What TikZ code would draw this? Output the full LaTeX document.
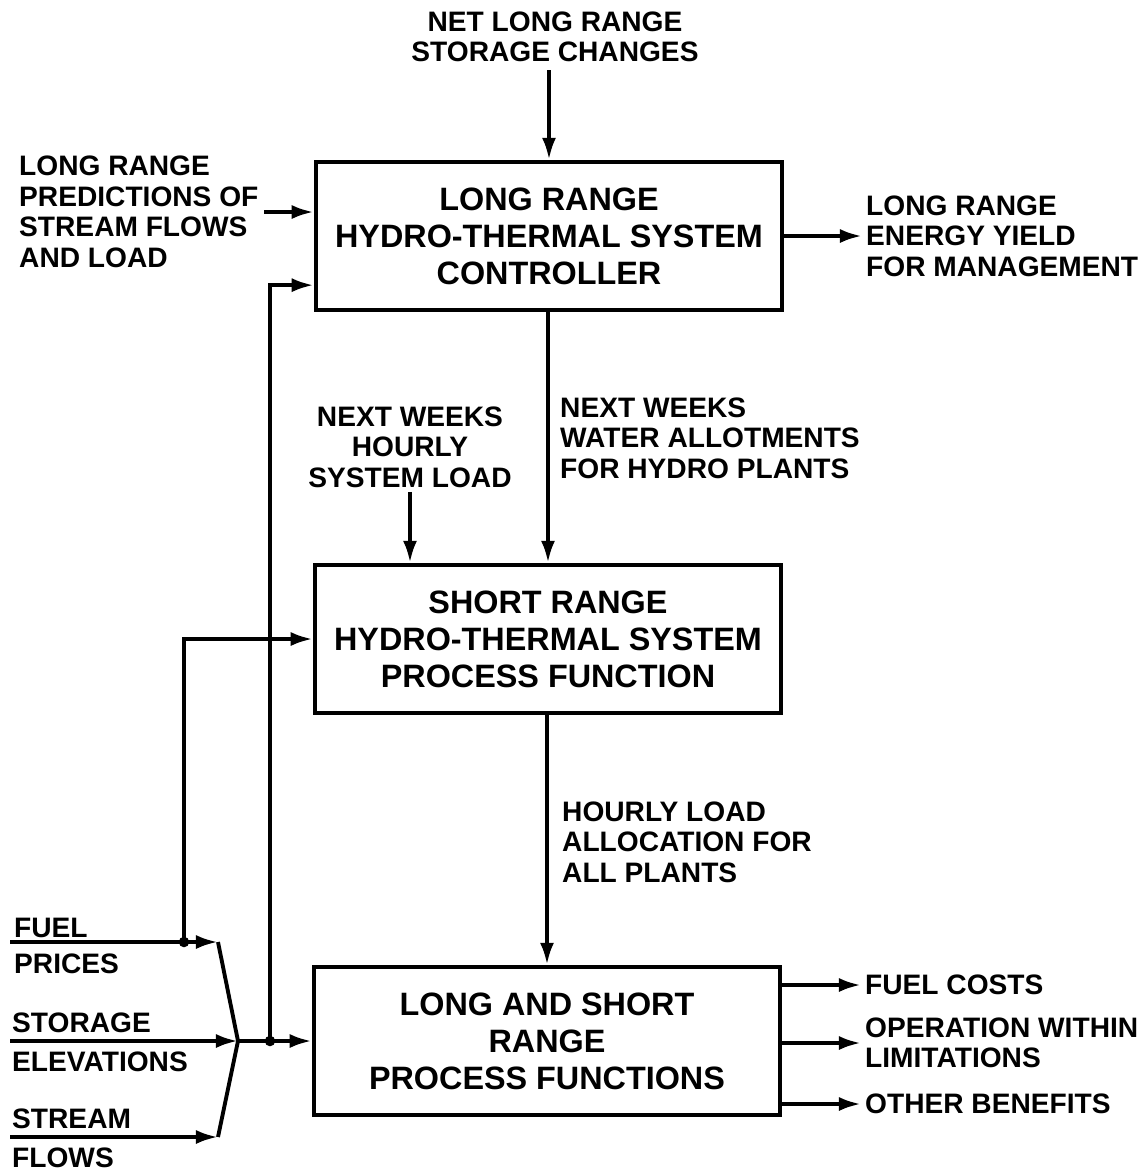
\documentclass[tikz,border=0pt]{standalone}
\usepackage{fontspec}
\setmainfont{Liberation Sans}
\usetikzlibrary{positioning, arrows.meta, calc}
\tikzset{
	boxnode/.style={
			shape=rectangle,
			draw=black,
			line width=1.2pt,
			minimum width=4.66cm,
			minimum height=1.48cm,
			align=center,
			font=\fontsize{9.2}{10.5}\selectfont\bfseries,
			inner sep=0pt
		},
	labelnode/.style={
			align=left,
			font=\fontsize{8}{8.7}\selectfont\bfseries,
			inner sep=1pt
		},
	arrowline/.style={
			-{Latex[length=2.2mm,width=1.4mm]},
			line width=1.1pt
		},
	plainline/.style={
			line width=1.1pt
		}
}

\begin{document}
\begin{tikzpicture}[x=0.01cm, y=-0.01cm]
\useasboundingbox (0,0) rectangle (1146,1172);

              \node[boxnode] (ctrl) at (549,236) {LONG RANGE\\HYDRO-THERMAL SYSTEM\\CONTROLLER};
              \node[boxnode] (proc) at (548,639) {SHORT RANGE\\HYDRO-THERMAL SYSTEM\\PROCESS FUNCTION};
              \node[boxnode] (func) at (547,1041) {LONG AND SHORT\\RANGE\\PROCESS FUNCTIONS};

              \node[labelnode, align=center] (net) at (555,37) {NET LONG RANGE\\STORAGE CHANGES};
              \node[labelnode, anchor=west] (pred) at (15,212) {LONG RANGE\\PREDICTIONS OF\\STREAM FLOWS\\AND LOAD};
              \node[labelnode, anchor=west] (yield) at (862,236) {LONG RANGE\\ENERGY YIELD\\FOR MANAGEMENT};
              \node[labelnode, align=center] (load) at (410,447) {NEXT WEEKS\\HOURLY\\SYSTEM LOAD};
              \node[labelnode, anchor=west] (water) at (556,438) {NEXT WEEKS\\WATER ALLOTMENTS\\FOR HYDRO PLANTS};
              \node[labelnode, anchor=west] (alloc) at (558,842) {HOURLY LOAD\\ALLOCATION FOR\\ALL PLANTS};

              \node[labelnode, anchor=base west] (fuel) at (10,937) {FUEL};
              \node[labelnode, anchor=base west] (prices) at (10,973) {PRICES};
              \node[labelnode, anchor=base west] (storage) at (8,1032) {STORAGE};
              \node[labelnode, anchor=base west] (elev) at (8,1071) {ELEVATIONS};
              \node[labelnode, anchor=base west] (stream) at (8,1128) {STREAM};
              \node[labelnode, anchor=base west] (flows) at (8,1167) {FLOWS};

              \node[labelnode, anchor=west] (cost) at (861,985) {FUEL COSTS};
              \node[labelnode, anchor=west] (oper) at (861,1043) {OPERATION WITHIN\\LIMITATIONS};
              \node[labelnode, anchor=west] (other) at (861,1104) {OTHER BENEFITS};

              \coordinate (netend) at (549,70);
              \coordinate (predend) at (264,212);
              \coordinate (f0) at (10,942);
              \coordinate (f1) at (218,942);
              \coordinate (s0) at (10,1041);
              \coordinate (w0) at (10,1137);
              \coordinate (w1) at (218,1137);
              \coordinate (join) at (238,1041);
              \coordinate (d1) at (184,942);
              \coordinate (d2) at (270,1041);

              \draw[arrowline] (netend) -- (ctrl.north);
              \draw[arrowline] (predend) -- (predend -| ctrl.west);
              \draw[arrowline] (ctrl.east) -- (yield.west);
              \draw[arrowline] (ctrl.south -| proc.north) -- (proc.north);
              \draw[arrowline] (load.south) -- (load.south |- proc.north);
              \draw[arrowline] (proc.south -| func.north) -- (func.north);

              \draw[arrowline] (f0) -- (f1);
              \draw[arrowline] (s0) -- (join);
              \draw[arrowline] (w0) -- (w1);
              \draw[plainline] (f1) -- (join) -- (w1);
              \draw[arrowline] (join) -- (join -| func.west);
              \draw[arrowline] (d1) |- (proc.west);
              \draw[arrowline] (d2) |- ([yshift=0.27cm]ctrl.south west);
              \fill (d1) circle (1.5pt);
              \fill (d2) circle (1.5pt);

              \draw[arrowline] (cost.west -| func.east) -- (cost.west);
              \draw[arrowline] (oper.west -| func.east) -- (oper.west);
              \draw[arrowline] (other.west -| func.east) -- (other.west);

\end{tikzpicture}
\end{document}
